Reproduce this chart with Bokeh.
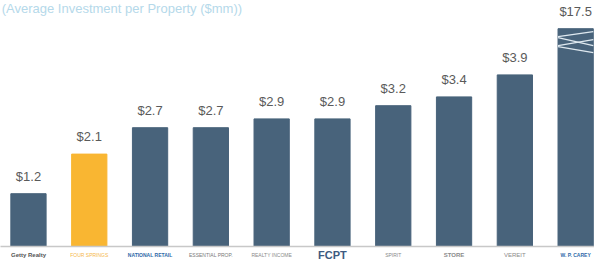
from bokeh.plotting import figure
from bokeh.models import Range1d, ColumnDataSource
from bokeh.core.properties import value
from bokeh.embed import file_html
from bokeh.resources import INLINE

companies = ["Getty Realty", "FOUR SPRINGS", "NATIONAL RETAIL", "ESSENTIAL PROP.", "REALTY INCOME",
             "FCPT", "SPIRIT", "STORE", "VEREIT", "W. P. CAREY"]
values = [1.2, 2.1, 2.7, 2.7, 2.9, 2.9, 3.2, 3.4, 3.9, 17.5]
labels = ["$1.2", "$2.1", "$2.7", "$2.7", "$2.9", "$2.9", "$3.2", "$3.4", "$3.9", "$17.5"]
highlight = 1
break_display = 4.95  # displayed height of the broken bar
title_text = "(Average Investment per Property ($mm))"

DARK = "#48637b"
GOLD = "#f9b632"
logo_colors = ["#555555", "#f5b84a", "#2f6aa8", "#7a7a7a", "#8a8a8a",
               "#3d5a80", "#8a8a8a", "#8a8a8a", "#8a8a8a", "#2f6aa8"]
logo_sizes = ["6px", "5px", "5px", "5px", "5px", "11px", "5px", "6px", "6px", "5px"]
logo_styles = ["bold", "normal", "bold", "normal", "normal", "bold", "normal", "bold", "normal", "bold"]

PX = 44.0  # pixels per unit
n = len(values)
xs = list(range(n))
disp = [v if v < 10 else break_display for v in values]
colors = [GOLD if i == highlight else DARK for i in xs]

p = figure(width=594, height=260, output_backend="svg", toolbar_location=None,
           x_range=Range1d(-0.46, 9.31), y_range=Range1d(-14 / PX, 246 / PX),
           min_border=0, outline_line_color=None)
p.xaxis.visible = False
p.yaxis.visible = False
p.grid.visible = False

src = ColumnDataSource(dict(x=xs, top=disp, color=colors, label=labels,
                            ly=[d + 10 / PX for d in disp]))
p.vbar(x="x", top="top", bottom=0, width=0.58, color="color", source=src)
p.text(x="x", y="ly", text="label", source=src, text_align="center",
       text_baseline="bottom", text_font=value("Liberation Sans"),
       text_font_size="13px", text_color="#5a5a5a")

# axis baseline
p.segment(x0=[-0.5], y0=[0], x1=[n - 0.5], y1=[0], line_color="#c8c8c8", line_width=1.5)

# break marks on the tall bar (offsets in px below bar top)
bi = n - 1
top = break_display
l, r = bi - 0.29, bi + 0.29
y0s = [top - d / PX for d in (8, 9, 17, 18)]
y1s = [top - d / PX for d in (3, 17, 11, 24)]
p.segment(x0=[l] * 4, y0=y0s, x1=[r] * 4, y1=y1s, line_color="#dfe9f0", line_width=1.3)

# company "logos" as text
p.text(x=xs, y=[-8 / PX] * n, text=companies, text_align="center", text_baseline="middle",
       text_font=value("Liberation Sans"), text_font_size=logo_sizes,
       text_font_style=logo_styles, text_color=logo_colors)

# title at the top
p.text(x=[-0.44], y=[246 / PX], text=[title_text], text_align="left",
       text_baseline="top", text_font=value("Liberation Sans"),
       text_font_size="13px", text_color="#b5d9ea")

open("out.html", "w").write(file_html(p, INLINE))
